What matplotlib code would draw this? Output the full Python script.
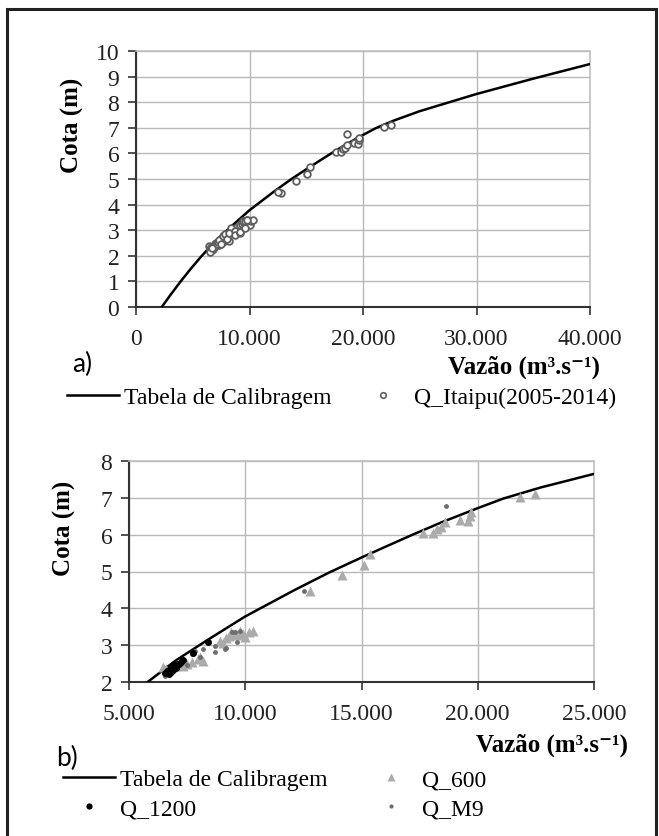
import matplotlib
matplotlib.use("Agg")
import matplotlib.pyplot as plt
from matplotlib.ticker import FuncFormatter
from matplotlib.lines import Line2D
from matplotlib.patches import Rectangle

plt.rcParams['font.family'] = ['Liberation Serif', 'DejaVu Serif']

# calibration table (vazao m3/s, cota m)
curve_q = [2270, 3000, 3900, 4800, 5700, 7000, 8400, 10000, 11300, 12100, 13600, 15000,
           16200, 17200, 18500, 20000, 21100, 22700, 25000, 30000, 35000, 40000]
curve_h = [0.0, 0.45, 0.98, 1.48, 1.95, 2.58, 3.15, 3.78, 4.22, 4.49, 4.97, 5.38,
           5.72, 6.0, 6.35, 6.72, 6.98, 7.28, 7.65, 8.32, 8.92, 9.49]

q600_q = [6470, 6600, 7000, 7330, 7480, 7700, 7980, 8050, 8200, 8920, 9050, 9180, 9300,
          9400, 9550, 9650, 9780, 9900, 10000, 10150, 10350,
          12800, 14140, 15100, 15360, 17650, 18080, 18260, 18400, 18590, 19230, 19590,
          19660, 19690, 21810, 22460]
q600_h = [2.40, 2.35, 2.45, 2.44, 2.49, 2.55, 2.62, 2.68, 2.57, 3.12, 3.05, 3.20, 3.25,
          3.35, 3.30, 3.28, 3.39, 3.30, 3.22, 3.35, 3.39,
          4.47, 4.91, 5.18, 5.48, 6.05, 6.05, 6.16, 6.22, 6.34, 6.41, 6.38,
          6.52, 6.61, 7.02, 7.11]

q1200_q = [6550, 6620, 6700, 6750, 6800, 6850, 6900, 6950, 7000, 7050, 7150, 7250, 7340, 7750, 8410]
q1200_h = [2.25, 2.30, 2.22, 2.35, 2.28, 2.40, 2.33, 2.45, 2.38, 2.50, 2.48, 2.55, 2.60, 2.80, 3.08]

qm9_q = [6550, 6700, 7480, 7700, 7840, 8050, 8200, 8700, 8700, 9130, 9170, 9420, 9560,
         9630, 9780, 12520, 18620]
qm9_h = [2.15, 2.30, 2.46, 2.76, 2.85, 2.67, 2.90, 2.97, 2.82, 2.90, 2.92, 3.37, 3.37,
         3.08, 3.39, 4.48, 6.77]

# Itaipu series 2005-2014 = all the gauged points
itaipu_q = q600_q + q1200_q + qm9_q
itaipu_h = q600_h + q1200_h + qm9_h

W, H = 659, 837
fig = plt.figure(figsize=(W / 100, H / 100), dpi=100)

def px(l, r, t, b):
    return [l / W, 1 - b / H, (r - l) / W, (b - t) / H]

thousands = FuncFormatter(lambda v, p: f"{int(v):,}".replace(",", "."))

def style(ax):
    ax.grid(True, color='#b8b8b8', lw=1.0)
    ax.set_axisbelow(True)
    for s in ['top', 'right']:
        ax.spines[s].set_color('#c0c0c0')
        ax.spines[s].set_linewidth(1.2)
    for s in ['left', 'bottom']:
        ax.spines[s].set_color('#333333')
        ax.spines[s].set_linewidth(1.5)
    ax.tick_params(direction='out', length=6, width=1.2, color='#333333',
                   labelsize=17, labelcolor='#222222')
    ax.tick_params(axis='x', pad=9)
    ax.tick_params(axis='y', pad=6)
    ax.xaxis.set_major_formatter(thousands)

# ---- panel a
ax1 = fig.add_axes(px(136, 590, 52, 308))
ax1.plot(curve_q, curve_h, color='black', lw=1.8, zorder=3)
ax1.plot(itaipu_q, itaipu_h, 'o', ms=4.8, mfc='white', mec='#5e5e5e', mew=1.3, zorder=4)
ax1.set_xlim(0, 40000)
ax1.set_ylim(0, 10)
ax1.set_xticks([0, 10000, 20000, 30000, 40000])
ax1.set_yticks(range(0, 11))
style(ax1)
ax1.set_ylabel('Cota (m)', fontsize=18, fontweight='bold')
ax1.yaxis.set_label_coords(-0.141, 0.715)
ax1.yaxis.label.set_va('center')
ax1.set_xlabel('Vazão (m³.s⁻¹)', fontsize=18, fontweight='bold', ha='right')
ax1.xaxis.set_label_coords(1.022, -0.23)
ax1.xaxis.label.set_va('center')

# ---- panel b
ax2 = fig.add_axes(px(129, 594, 462, 683))
ax2.plot(curve_q, curve_h, color='black', lw=1.8, zorder=3)
ax2.plot(q600_q, q600_h, '^', ms=6.5, color='#ababab', mec='none', zorder=4)
ax2.plot(qm9_q, qm9_h, 'o', ms=3.5, color='#6e6e6e', mec='none', zorder=5)
ax2.plot(q1200_q, q1200_h, 'o', ms=5, color='black', mec='none', zorder=6)
ax2.set_xlim(5000, 25000)
ax2.set_ylim(2, 8)
ax2.set_xticks([5000, 10000, 15000, 20000, 25000])
ax2.set_yticks(range(2, 9))
style(ax2)
ax2.set_ylabel('Cota (m)', fontsize=18, fontweight='bold')
ax2.yaxis.set_label_coords(-0.138, 0.701)
ax2.yaxis.label.set_va('center')
ax2.set_xlabel('Vazão (m³.s⁻¹)', fontsize=18, fontweight='bold', ha='right')
ax2.xaxis.set_label_coords(1.073, -0.281)
ax2.xaxis.label.set_va('center')

fig.text(82 / W, 1 - 364 / H, 'a)', fontsize=19, family='Lato', ha='center', va='center')
fig.text(67 / W, 1 - 758 / H, 'b)', fontsize=19, family='Lato', ha='center', va='center')

# ---- legends
h_line = Line2D([], [], color='black', lw=1.8)
h_ita = Line2D([], [], ls='none', marker='o', ms=4, mfc='white', mec='#5e5e5e', mew=1.2)
h_600 = Line2D([], [], ls='none', marker='^', ms=5.5, color='#ababab', mec='none')
h_1200 = Line2D([], [], ls='none', marker='o', ms=4.5, color='black', mec='none')
h_m9 = Line2D([], [], ls='none', marker='o', ms=3, color='#6e6e6e', mec='none')

leg_kw = dict(frameon=False, fontsize=17, handlelength=2.2, handletextpad=0.2,
              borderpad=0, borderaxespad=0, labelspacing=0.3, loc='center left')

l1 = fig.legend([h_line], ['Tabela de Calibragem'], bbox_to_anchor=(67 / W, 1 - 398 / H), **leg_kw)
l2 = fig.legend([h_ita], ['Q_Itaipu(2005-2014)'], bbox_to_anchor=(357 / W, 1 - 398 / H), **leg_kw)
l3 = fig.legend([h_line, h_1200], ['Tabela de Calibragem', 'Q_1200'],
                bbox_to_anchor=(63 / W, 1 - 795 / H), **leg_kw)
l4 = fig.legend([h_600, h_m9], ['Q_600', 'Q_M9'],
                bbox_to_anchor=(365 / W, 1 - 795 / H), **leg_kw)

# outer frame
fig.patches.append(Rectangle((7 / W, -0.01), (656 - 7) / W, 1 - 10 / H + 0.01,
                             transform=fig.transFigure, fill=False, ec='#222222', lw=2.2))

fig.savefig('out.png', dpi=100)
